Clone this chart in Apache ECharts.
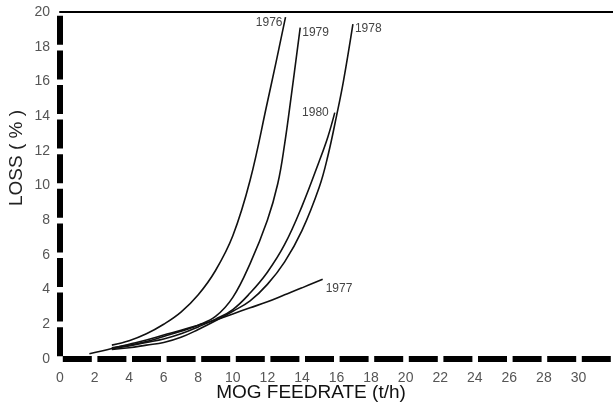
<!DOCTYPE html>
<html>
<head>
<meta charset="utf-8">
<script src="https://cdn.jsdelivr.net/npm/echarts@6/dist/echarts.min.js"></script>
<style>
  html, body { margin: 0; padding: 0; background: #fff; }
  #chart { width: 613px; height: 405px; }
</style>
</head>
<body>
<div id="chart"></div>
<script>
// Loss (%) vs MOG feedrate (t/h), one curve per year
const years = ['1976', '1977', '1978', '1979', '1980'];

const x1976 = [3.0, 4, 5, 6, 7, 8, 9, 10, 11, 12, 12.5, 13.05];
const y1976 = [0.8, 1.05, 1.45, 2.0, 2.7, 3.7, 5.1, 7.1, 10.3, 14.8, 17.1, 19.7];

const x1977 = [1.7, 3, 4, 5, 6, 7, 8, 9, 10, 11, 12, 13, 14, 15.2];
const y1977 = [0.3, 0.6, 0.85, 1.1, 1.38, 1.65, 1.95, 2.25, 2.6, 2.95, 3.3, 3.7, 4.1, 4.6];

const x1978 = [3.0, 4, 5, 6, 7, 8, 9, 10, 11, 12, 13, 14, 15, 15.5, 16, 16.4, 16.95];
const y1978 = [0.55, 0.65, 0.8, 0.95, 1.25, 1.7, 2.2, 2.75, 3.35, 4.3, 5.6, 7.4, 9.9, 11.7, 14.0, 16.0, 19.3];

const x1979 = [3.0, 4, 5, 6, 7, 8, 9, 10, 11, 12, 12.6, 13, 13.4, 13.9];
const y1979 = [0.65, 0.8, 1.0, 1.3, 1.6, 1.95, 2.45, 3.55, 5.5, 8.0, 10.1, 12.4, 15.3, 19.1];

const x1980 = [3.0, 4, 5, 6, 7, 8, 9, 10, 11, 12, 13, 14, 15, 15.5, 15.9];
const y1980 = [0.6, 0.75, 0.95, 1.15, 1.45, 1.85, 2.3, 2.85, 3.8, 5.0, 6.6, 8.8, 11.4, 12.8, 14.2];

const xs = { '1976': x1976, '1977': x1977, '1978': x1978, '1979': x1979, '1980': x1980 };
const ys = { '1976': y1976, '1977': y1977, '1978': y1978, '1979': y1979, '1980': y1980 };

// where each year's tag sits next to the end of its curve
const tagPos = {
    '1976': { position: 'left', offset: [-1, 5] },
    '1977': { position: 'right', offset: [1, 9] },
    '1978': { position: 'right', offset: [0, 5] },
    '1979': { position: 'right', offset: [0, 5] },
    '1980': { position: 'left', offset: [-4, 0] }
};

const FONT = '"Liberation Sans", Arial, sans-serif';
const chart = echarts.init(document.getElementById('chart'));

function buildSeries(year) {
    const px = xs[year], py = ys[year];
    const data = px.map((x, i) => [x, py[i]]);
    const last = data.length - 1;
    data[last] = {
        value: data[last],
        label: {
            show: true,
            formatter: year,
            position: tagPos[year].position,
            offset: tagPos[year].offset,
            distance: 2,
            fontSize: 12,
            fontFamily: FONT,
            color: '#444'
        }
    };
    return {
        name: year,
        type: 'line',
        data: data,
        smooth: 0.4,
        showSymbol: true,
        symbol: 'circle',
        symbolSize: 0,
        lineStyle: { color: '#111', width: 1.6 },
        emphasis: { disabled: true },
        animation: false
    };
}

const axisDash = { color: '#000', width: 6, type: [29, 5.6], dashOffset: -2.8, cap: 'butt' };

chart.setOption({
    backgroundColor: '#fff',
    animation: false,
    grid: { left: 60, right: 0, top: 12, bottom: 46 },
    xAxis: [{
        type: 'value',
        min: 0, max: 32, interval: 2,
        axisLine: { show: true, onZero: false, lineStyle: axisDash },
        axisTick: { show: false },
        splitLine: { show: false },
        axisLabel: { margin: 12, fontSize: 14, color: '#555', fontFamily: FONT, showMaxLabel: false }
    }, {
        type: 'value',
        position: 'top',
        min: 0, max: 32,
        axisLine: { show: true, onZero: false, lineStyle: { color: '#000', width: 2 } },
        axisTick: { show: false },
        axisLabel: { show: false },
        splitLine: { show: false }
    }],
    yAxis: {
        type: 'value',
        min: 0, max: 20, interval: 2,
        axisLine: { show: true, onZero: false, lineStyle: axisDash },
        axisTick: { show: false },
        splitLine: { show: false },
        axisLabel: { margin: 10, fontSize: 14, color: '#555', fontFamily: FONT }
    },
    graphic: [{
        type: 'text',
        x: 17, y: 158,
        rotation: Math.PI / 2,
        style: { text: 'LOSS ( % )', fontSize: 19, fontFamily: FONT, fill: '#222', textAlign: 'center', textVerticalAlign: 'middle' }
    }, {
        type: 'text',
        x: 311, y: 393,
        style: { text: 'MOG FEEDRATE (t/h)', fontSize: 19, fontFamily: FONT, fill: '#111', textAlign: 'center', textVerticalAlign: 'middle' }
    }],
    series: years.map(buildSeries)
});
</script>
</body>
</html>
